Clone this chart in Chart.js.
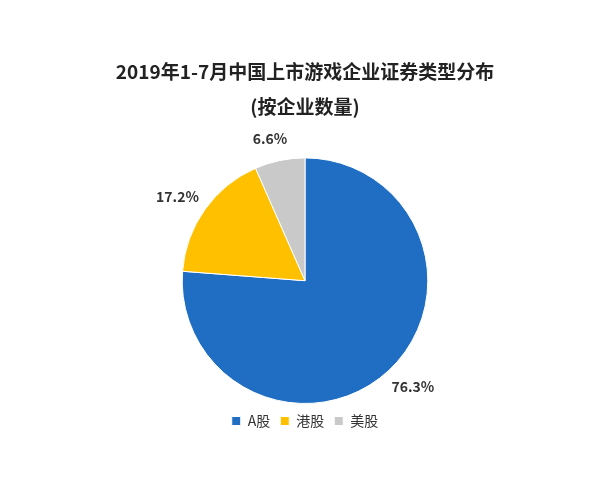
<!DOCTYPE html>
<html>
<head>
<meta charset="utf-8">
<script src="https://cdn.jsdelivr.net/npm/chart.js@4"></script>
<style>
  body { margin: 0; background: #fff; }
  #wrap { width: 600px; height: 480px; }
</style>
</head>
<body>
<div id="wrap"><canvas id="pie"></canvas></div>
<script>
const categories = ["A股", "港股", "美股"];
const shares = [76.3, 17.2, 6.6];
const colors = ["#1F6EC4", "#FFC000", "#C9C9C9"];
const titleLines = ["2019年1-7月中国上市游戏企业证券类型分布", "(按企业数量)"];

const fontFamily = "'Noto Sans CJK SC', 'Noto Sans', sans-serif";

// percent labels outside the slices
const outsideLabels = {
  id: "outsideLabels",
  afterDatasetsDraw(chart) {
    const ctx = chart.ctx;
    const meta = chart.getDatasetMeta(0);
    ctx.save();
    ctx.font = "bold 14px " + fontFamily;
    ctx.fillStyle = "#333";
    ctx.textBaseline = "middle";
    meta.data.forEach((arc, i) => {
      const angle = (arc.startAngle + arc.endAngle) / 2;
      const r = arc.outerRadius + 22;
      const x = arc.x + Math.cos(angle) * r;
      const y = arc.y + Math.sin(angle) * r;
      ctx.textAlign = Math.cos(angle) >= 0 ? "left" : "right";
      const dx = Math.cos(angle) >= 0 ? -12 : 12;
      ctx.fillText(shares[i].toFixed(1) + "%", x + dx, y);
    });
    ctx.restore();
  },
};

new Chart(document.getElementById("pie"), {
  type: "pie",
  data: {
    labels: categories,
    datasets: [
      {
        data: shares,
        backgroundColor: colors,
        borderColor: "#fff",
        borderWidth: 1,
      },
    ],
  },
  options: {
    responsive: true,
    maintainAspectRatio: false,
    animation: false,
    layout: { padding: { top: 55, bottom: 42, left: 30, right: 20 } },
    plugins: {
      title: {
        display: true,
        text: titleLines,
        color: "#222",
        font: { size: 19, weight: "bold", family: fontFamily, lineHeight: 1.8 },
        padding: { top: 0, bottom: 34 },
      },
      legend: {
        position: "bottom",
        labels: {
          boxWidth: 9,
          boxHeight: 9,
          padding: 10,
          color: "#333",
          font: { size: 14, family: fontFamily },
        },
      },
      tooltip: { enabled: false },
    },
  },
  plugins: [outsideLabels],
});
</script>
</body>
</html>
